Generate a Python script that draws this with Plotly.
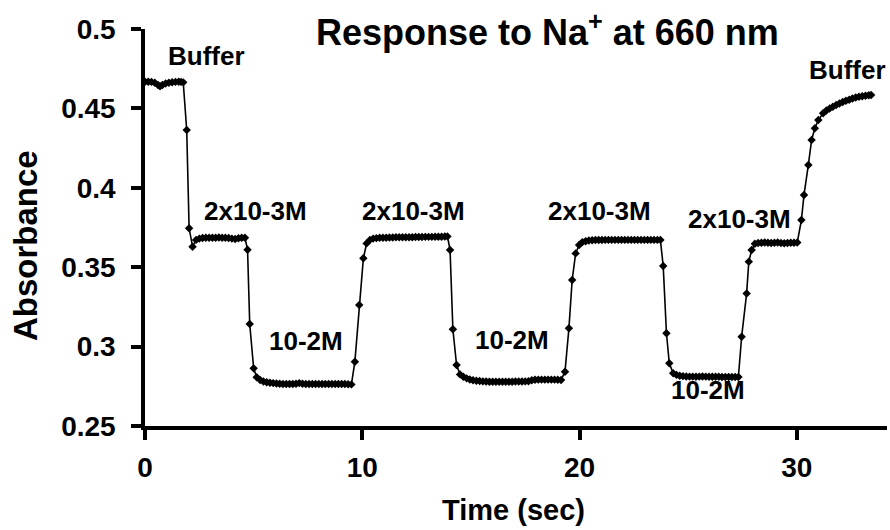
import plotly.graph_objects as go

# ---------------- data ----------------
t_buffer1 = [0.0, 0.15, 0.3, 0.45, 0.6, 0.69, 0.8, 0.95, 1.1, 1.25, 1.4, 1.55, 1.66, 1.76]
a_buffer1 = [0.4668, 0.4668, 0.4667, 0.4662, 0.4648, 0.4640, 0.4648, 0.4657, 0.4662, 0.4665, 0.4667, 0.4668, 0.4667, 0.4664]

t_drop1 = [1.92, 2.03, 2.19]
a_drop1 = [0.4364, 0.3745, 0.3629]

t_mid1 = [2.35, 2.5, 2.65, 2.8, 2.95, 3.1, 3.25, 3.4, 3.55, 3.7, 3.85, 4.0, 4.15, 4.3, 4.45, 4.6]
a_mid1 = [0.3672, 0.3680, 0.3684, 0.3686, 0.3686, 0.3685, 0.3686, 0.3687, 0.3686, 0.3685, 0.3684,
          0.3680, 0.3678, 0.3682, 0.3686, 0.3686]

t_drop2 = [4.72, 4.82, 5.0, 5.14]
a_drop2 = [0.3610, 0.3142, 0.2863, 0.2807]

t_low1 = [5.3, 5.45, 5.6, 5.75, 5.9, 6.05, 6.2, 6.35, 6.5, 6.65, 6.8, 6.95, 7.1, 7.25, 7.4,
          7.55, 7.7, 7.85, 8.0, 8.15, 8.3, 8.45, 8.6, 8.75, 8.9, 9.05, 9.2, 9.35, 9.5]
a_low1 = [0.2790, 0.2780, 0.2775, 0.2772, 0.2770, 0.2768, 0.2766, 0.2765, 0.2765, 0.2764, 0.2765,
          0.2766, 0.2770, 0.2766, 0.2765, 0.2764, 0.2764, 0.2765, 0.2765, 0.2764, 0.2764, 0.2765,
          0.2765, 0.2764, 0.2764, 0.2765, 0.2764, 0.2763, 0.2762]

t_rise1 = [9.66, 9.86, 10.05, 10.2]
a_rise1 = [0.2905, 0.3262, 0.3556, 0.3650]

t_mid2 = [10.35, 10.5, 10.65, 10.8, 10.95, 11.1, 11.25, 11.4, 11.55, 11.7, 11.85, 12.0, 12.15,
          12.3, 12.45, 12.6, 12.75, 12.9, 13.05, 13.2, 13.35, 13.5, 13.65, 13.8]
a_mid2 = [0.3672, 0.3680, 0.3683, 0.3685, 0.3686, 0.3686, 0.3687, 0.3687, 0.3688, 0.3688, 0.3688,
          0.3689, 0.3689, 0.3689, 0.3690, 0.3690, 0.3690, 0.3691, 0.3691, 0.3691, 0.3692, 0.3692,
          0.3692, 0.3693]

t_drop3 = [13.92, 14.04, 14.17, 14.34, 14.5]
a_drop3 = [0.3694, 0.3608, 0.3109, 0.2884, 0.2825]

t_low2 = [14.65, 14.8, 14.95, 15.1, 15.25, 15.4, 15.55, 15.7, 15.85, 16.0, 16.15, 16.3, 16.45,
          16.6, 16.75, 16.9, 17.05, 17.2, 17.35, 17.5, 17.65, 17.8, 17.95, 18.1, 18.25, 18.4,
          18.55, 18.7, 18.85, 19.0, 19.15]
a_low2 = [0.2810, 0.2800, 0.2793, 0.2788, 0.2785, 0.2783, 0.2781, 0.2780, 0.2779, 0.2779, 0.2779,
          0.2779, 0.2779, 0.2779, 0.2779, 0.2779, 0.2780, 0.2780, 0.2780, 0.2781, 0.2782, 0.2788,
          0.2791, 0.2792, 0.2792, 0.2792, 0.2792, 0.2792, 0.2792, 0.2791, 0.2790]

t_rise2 = [19.33, 19.51, 19.66, 19.82, 19.98]
a_rise2 = [0.2842, 0.3115, 0.3419, 0.3587, 0.3640]

t_mid3 = [20.13, 20.28, 20.43, 20.58, 20.73, 20.88, 21.03, 21.18, 21.33, 21.48, 21.63, 21.78,
          21.93, 22.08, 22.23, 22.38, 22.53, 22.68, 22.83, 22.98, 23.13, 23.28, 23.43, 23.58, 23.72]
a_mid3 = [0.3658, 0.3664, 0.3668, 0.3670, 0.3671, 0.3671, 0.3671, 0.3672, 0.3672, 0.3672, 0.3672,
          0.3672, 0.3672, 0.3672, 0.3672, 0.3672, 0.3672, 0.3672, 0.3672, 0.3672, 0.3672, 0.3672,
          0.3672, 0.3672, 0.3672]

t_drop4 = [23.85, 24.0, 24.13, 24.31]
a_drop4 = [0.3508, 0.3084, 0.2895, 0.2832]

t_low3 = [24.46, 24.61, 24.76, 24.91, 25.06, 25.21, 25.36, 25.51, 25.66, 25.81, 25.96, 26.11,
          26.26, 26.41, 26.56, 26.71, 26.86, 27.01, 27.16, 27.31]
a_low3 = [0.2822, 0.2817, 0.2814, 0.2812, 0.2811, 0.2811, 0.2810, 0.2811, 0.2812, 0.2811, 0.2810,
          0.2810, 0.2810, 0.2810, 0.2809, 0.2809, 0.2809, 0.2809, 0.2808, 0.2808]

t_rise3 = [27.46, 27.69, 27.79, 27.92]
a_rise3 = [0.3062, 0.3335, 0.3535, 0.3608]

t_mid4 = [28.07, 28.22, 28.37, 28.52, 28.67, 28.82, 28.97, 29.12, 29.27, 29.42, 29.57, 29.72,
          29.87, 30.02]
a_mid4 = [0.3648, 0.3652, 0.3654, 0.3655, 0.3654, 0.3652, 0.3654, 0.3655, 0.3653, 0.3651, 0.3653,
          0.3654, 0.3654, 0.3656]

t_rise4 = [30.21, 30.33, 30.53, 30.68, 30.83, 30.99, 31.21]
a_rise4 = [0.3797, 0.3955, 0.4144, 0.4301, 0.4375, 0.4427, 0.4469]

t_buffer2 = [31.36, 31.51, 31.66, 31.81, 31.96, 32.11, 32.26, 32.41, 32.56, 32.71, 32.86, 33.01,
             33.16, 33.31, 33.42]
a_buffer2 = [0.4487, 0.4500, 0.4511, 0.4521, 0.4531, 0.4540, 0.4548, 0.4555, 0.4562, 0.4568,
             0.4573, 0.4577, 0.4580, 0.4583, 0.4584]

segments_t = [t_buffer1, t_drop1, t_mid1, t_drop2, t_low1, t_rise1, t_mid2, t_drop3, t_low2,
              t_rise2, t_mid3, t_drop4, t_low3, t_rise3, t_mid4, t_rise4, t_buffer2]
segments_a = [a_buffer1, a_drop1, a_mid1, a_drop2, a_low1, a_rise1, a_mid2, a_drop3, a_low2,
              a_rise2, a_mid3, a_drop4, a_low3, a_rise3, a_mid4, a_rise4, a_buffer2]

time_s = [v for seg in segments_t for v in seg]
absorbance = [v for seg in segments_a for v in seg]

x_ticks = [0, 10, 20, 30]
x_tick_labels = ["0", "10", "20", "30"]
y_ticks = [0.25, 0.3, 0.35, 0.4, 0.45, 0.5]
y_tick_labels = ["0.25", "0.3", "0.35", "0.4", "0.45", "0.5"]

label_texts = ["Buffer", "2x10-3M", "10-2M", "2x10-3M", "10-2M", "2x10-3M", "10-2M", "2x10-3M", "Buffer"]
label_t = [2.85, 5.07, 7.40, 12.36, 16.88, 20.94, 25.93, 27.38, 32.31]
label_a = [0.483, 0.3854, 0.3035, 0.3854, 0.3042, 0.3854, 0.2727, 0.3804, 0.4742]

title_text = "Response to Na<sup>+</sup> at 660 nm"
x_title = "Time (sec)"
y_title = "Absorbance"

# ---------------- figure ----------------
W, H = 890, 530
ML, MR, MT, MB = 145, 3, 29, 104
PW, PH = W - ML - MR, H - MT - MB

def px(x):
    return (x - ML) / PW

def py(y):
    return (H - MB - y) / PH

FONT = "Liberation Sans, Arial, Helvetica, sans-serif"
BLACK = "#000000"

fig = go.Figure()
fig.add_trace(go.Scatter(
    x=time_s, y=absorbance, mode="lines+markers",
    line=dict(color=BLACK, width=1.6),
    marker=dict(symbol="diamond", size=6.5, color=BLACK),
    showlegend=False, hoverinfo="skip",
))

annotations = []
for txt, tx, ay in zip(label_texts, label_t, label_a):
    annotations.append(dict(x=tx, y=ay, xref="x", yref="y", text=txt, showarrow=False,
                            xanchor="center", yanchor="middle",
                            font=dict(family=FONT, size=26, color=BLACK, weight="bold")))

annotations.append(dict(x=px(547.5), y=py(30), xref="paper", yref="paper", text=title_text,
                        showarrow=False, xanchor="center", yanchor="middle",
                        font=dict(family=FONT, size=36, color=BLACK, weight="bold")))
annotations.append(dict(x=px(513.5), y=py(510), xref="paper", yref="paper", text=x_title,
                        showarrow=False, xanchor="center", yanchor="middle",
                        font=dict(family=FONT, size=29, color=BLACK, weight="bold")))
annotations.append(dict(x=px(25), y=py(246), xref="paper", yref="paper", text=y_title,
                        showarrow=False, xanchor="center", yanchor="middle", textangle=-90,
                        font=dict(family=FONT, size=33, color=BLACK, weight="bold")))

axis_common = dict(showline=True, linecolor=BLACK, linewidth=3.5, ticks="outside", ticklen=10,
                   tickwidth=3.5, tickcolor=BLACK, showgrid=False, zeroline=False,
                   tickfont=dict(family=FONT, size=28, color=BLACK, weight="bold"))

fig.update_layout(
    width=W, height=H,
    margin=dict(l=ML, r=MR, t=MT, b=MB, pad=0),
    paper_bgcolor="white", plot_bgcolor="white",
    xaxis=dict(range=[0, 34.15], tickmode="array", tickvals=x_ticks, ticktext=x_tick_labels,
               ticklabelstandoff=4, **axis_common),
    yaxis=dict(range=[0.25, 0.5], tickmode="array", tickvals=y_ticks, ticktext=y_tick_labels,
               ticklabelstandoff=10, **axis_common),
    annotations=annotations,
)

fig.write_html("out.html")
